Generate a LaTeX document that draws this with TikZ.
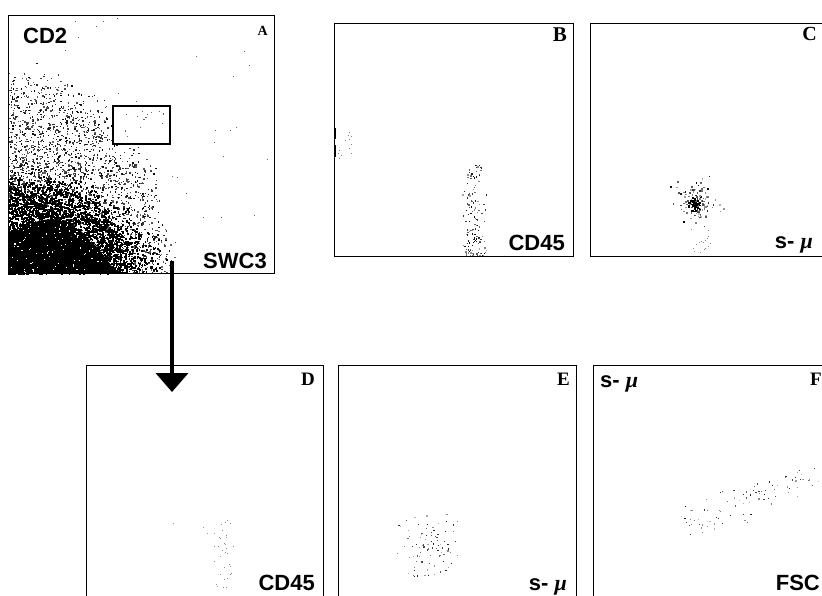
\documentclass[tikz,border=0pt]{standalone}
\usepackage{fontspec}
\setmainfont{Liberation Serif}
\setsansfont{Liberation Sans}
\usetikzlibrary{arrows.meta, calc}
\newcommand\mumark{{\rmfamily\itshape μ}}

\begin{document}
\begin{tikzpicture}[x=1pt, y=-1pt,
    panel/.style={draw, line width=0.9pt, inner sep=0pt, rectangle},
    axis/.style={font=\sffamily\bfseries\fontsize{22}{22}\selectfont, inner sep=0pt},
    tag/.style={font=\bfseries\fontsize{#1}{#1}\selectfont, inner sep=0pt, anchor=base east},
    gate/.style={draw, line width=2pt, inner sep=0pt, rectangle},
    flow/.style={line width=4pt, -{Triangle[width=32pt,length=19pt]}}]
\useasboundingbox (0,0) rectangle (822,595);
\pgfmathsetseed{4711}

% A: CD2 / SWC3
\foreach \i in {1,...,2600}{
  \pgfmathsetmacro\a{90*rnd}
  \pgfmathsetmacro\r{(0.42+0.68*pow(rnd,1.15))*(1+0.12*(rnd+rnd-1))}
  \pgfmathsetmacro\px{8+145*\r*cos(\a)}
  \pgfmathsetmacro\py{273-180*\r*sin(\a)}
  \pgfmathtruncatemacro\g{60+40*rnd}
  \fill[black!\g] (\px,\py) rectangle ++(1.4,1.4);
}
\foreach \i in {1,...,4000}{
  \pgfmathsetmacro\a{90*rnd}
  \pgfmathsetmacro\r{pow(rnd,0.65)*(1+0.25*(rnd+rnd-1))}
  \pgfmathsetmacro\px{8+134*\r*cos(\a)}
  \pgfmathsetmacro\py{273-90*\r*sin(\a)}
  \fill (\px,\py) rectangle ++(1.8,1.8);
}
\fill (8,273) -- (8,232) -- (18,229) -- (29,224) -- (42,220) -- (53,219) -- (66,222) -- (77,227)
  -- (86,236) -- (96,246) -- (104,256) -- (111,265) -- (115,273) -- cycle;
\foreach \i in {1,...,110}{
  \pgfmathsetmacro\px{10+95*rnd}
  \pgfmathsetmacro\py{222+50*rnd}
  \fill[white] (\px,\py) rectangle ++(1.1,1.1);
}
\foreach \i in {1,...,40}{
  \pgfmathsetmacro\px{10+260*rnd}
  \pgfmathsetmacro\py{18+250*rnd}
  \fill[black!60] (\px,\py) rectangle ++(1,1);
}

% B: CD45
\foreach \i in {1,...,170}{
  \pgfmathsetmacro\py{256-92*pow(rnd,2.2)}
  \pgfmathsetmacro\px{474+14*(rnd+rnd-1)}
  \pgfmathtruncatemacro\g{35+65*rnd}
  \fill[black!\g] (\px,\py) rectangle ++(1.3,1.3);
}
\foreach \i in {1,...,12}{
  \pgfmathsetmacro\px{336+16*rnd}
  \pgfmathsetmacro\py{130+28*rnd}
  \fill[black!50] (\px,\py) rectangle ++(1,1);
}
\fill (333.5,128) rectangle (335.5,139);
\fill (333.5,145) rectangle (335.5,157);

% C: s-mu
\foreach \i in {1,...,120}{
  \pgfmathsetmacro\px{695+20*(rnd+rnd+rnd-1.5)}
  \pgfmathsetmacro\py{202+20*(rnd+rnd+rnd-1.5)}
  \pgfmathtruncatemacro\g{30+70*rnd}
  \fill[black!\g] (\px,\py) rectangle ++(1.6,1.6);
}
\foreach \i in {1,...,40}{
  \pgfmathsetmacro\px{694+7*(rnd+rnd-1)}
  \pgfmathsetmacro\py{203+9*(rnd+rnd-1)}
  \fill (\px,\py) rectangle ++(1.8,1.8);
}
\foreach \i in {1,...,16}{
  \pgfmathsetmacro\px{687+23*rnd}
  \pgfmathsetmacro\py{226+27*rnd}
  \fill[black!45] (\px,\py) rectangle ++(1,1);
}

% D: CD45
\foreach \i in {1,...,30}{
  \pgfmathsetmacro\px{224+12*(rnd+rnd-1)}
  \pgfmathsetmacro\py{590-70*pow(rnd,1.3)}
  \fill[black!45] (\px,\py) rectangle ++(1,1);
}
\foreach \i in {1,...,6}{
  \pgfmathsetmacro\px{145+80*rnd}
  \pgfmathsetmacro\py{515+50*rnd}
  \fill[black!40] (\px,\py) rectangle ++(1,1);
}

% E: s-mu
\foreach \i in {1,...,90}{
  \pgfmathsetmacro\px{432+38*(rnd+rnd-1)}
  \pgfmathsetmacro\py{548+38*(rnd+rnd-1)}
  \pgfmathtruncatemacro\g{30+60*rnd}
  \fill[black!\g] (\px,\py) rectangle ++(1.2,1.2);
}

% F: s-mu / FSC
\foreach \i in {1,...,85}{
  \pgfmathsetmacro\t{rnd}
  \pgfmathsetmacro\px{685+135*\t+8*(rnd+rnd-1)}
  \pgfmathsetmacro\py{522-48*\t+22*(rnd+rnd-1)}
  \pgfmathtruncatemacro\g{25+65*rnd}
  \fill[black!\g] (\px,\py) rectangle ++(1.2,1.2);
}

\node[panel, minimum width=266pt, minimum height=258pt] (pA) at (141,144) {};
\node[panel, minimum width=239pt, minimum height=233pt] (pB) at (453.5,139.5) {};
\node[panel, minimum width=239pt, minimum height=233pt] (pC) at (709.5,139.5) {};
\node[panel, minimum width=237pt, minimum height=233pt] (pD) at (204.5,481.5) {};
\node[panel, minimum width=238pt, minimum height=233pt] (pE) at (457,482) {};
\node[panel, minimum width=238pt, minimum height=233pt] (pF) at (712,482) {};
\node[gate, minimum width=57pt, minimum height=38pt, fill=white] (gA) at (141.5,125) {};

\node[axis, anchor=base west] (yA) at (23,43) {CD2};
\node[axis, anchor=base east] (xA) at (267,268) {SWC3};
\node[tag=14] (tA) at (268,35) {A};
\node[axis, anchor=base east] (xB) at (565,250) {CD45};
\node[tag=21] (tB) at (567,41) {B};
\node[axis, anchor=base east] (xC) at (813,248) {s- \mumark};
\node[tag=20] (tC) at (817,40) {C};
\node[axis, anchor=base east] (xD) at (315,590) {CD45};
\node[tag=19] (tD) at (315,385) {D};
\node[axis, anchor=base east] (xE) at (567,590) {s- \mumark};
\node[tag=19] (tE) at (570,385) {E};
\node[axis, anchor=base west] (yF) at (600,387) {s- \mumark};
\node[tag=19] (tF) at (822,385) {F};
\node[axis, anchor=base east] (xF) at (820,590) {FSC};

\foreach \i in {1,...,14}{
  \pgfmathsetmacro\px{116+50*rnd}
  \pgfmathsetmacro\py{110+30*rnd}
  \fill[black!60] (\px,\py) rectangle ++(1.1,1.1);
}

\coordinate (flowTop) at (172,261);
\coordinate (flowTip) at (172,392);
\draw[flow] (flowTop) -- (flowTip);
\end{tikzpicture}
\end{document}
